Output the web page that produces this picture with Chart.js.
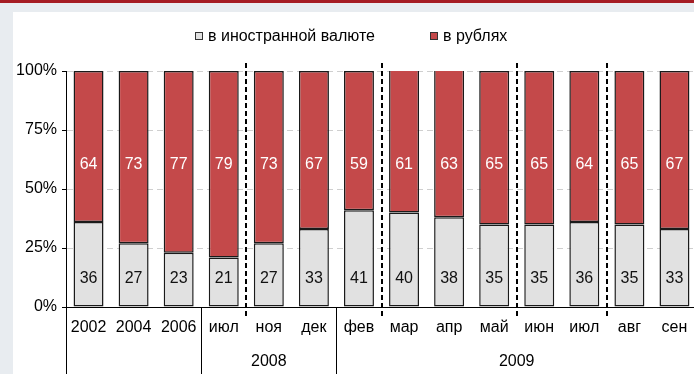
<!DOCTYPE html>
<html lang="ru">
<head>
<meta charset="utf-8">
<script src="https://cdn.jsdelivr.net/npm/chart.js@4/dist/chart.umd.min.js"></script>
<style>
  html, body { margin: 0; padding: 0; }
  body { width: 694px; height: 374px; overflow: hidden; position: relative; background: #e8ecf0; }
  .topline { position: absolute; left: 0; top: 0; width: 100%; height: 3px; background: #a51c23; }
  .panel { position: absolute; left: 13px; top: 12px; right: 0; bottom: 0; background: #fff; }
  canvas { position: absolute; left: 0; top: 0; }
</style>
</head>
<body>
<div class="topline"></div>
<div class="panel"></div>
<canvas id="chart" width="700" height="374"></canvas>
<script>
const categories = ['2002', '2004', '2006', 'июл', 'ноя', 'дек', 'фев', 'мар', 'апр', 'май', 'июн', 'июл', 'авг', 'сен'];
const foreignShare = [36, 27, 23, 21, 27, 33, 41, 40, 38, 35, 35, 36, 35, 33];
const rubleShare = [64, 73, 77, 79, 73, 67, 59, 61, 63, 65, 65, 64, 65, 67];
const yTicks = [0, 25, 50, 75, 100];
// year groups under the month labels (first..last category index)
const yearGroups = [
  { label: '2008', from: 3, to: 5 },
  { label: '2009', from: 6, to: 13 }
];
// dashed separators go after these category indexes
const dividers = [3, 6, 9, 11];

const FONT = '"Liberation Sans", Arial, sans-serif';
const RED = '#c4494a';
const GREY = '#e1e1e1';

const extras = {
  id: 'extras',
  afterDatasetsDraw(chart) {
    const { ctx, chartArea, scales: { x, y } } = chart;
    const edge = (i) => (x.getPixelForValue(i) + x.getPixelForValue(i + 1)) / 2;

    ctx.save();
    // value labels inside the segments
    ctx.font = '16px ' + FONT;
    ctx.textAlign = 'center';
    ctx.textBaseline = 'middle';
    categories.forEach((c, i) => {
      const px = x.getPixelForValue(i);
      ctx.fillStyle = '#111';
      ctx.fillText(String(foreignShare[i]), px, y.getPixelForValue(12));
      ctx.fillStyle = '#fff';
      ctx.fillText(String(rubleShare[i]), px, y.getPixelForValue(60.5));
    });

    // dashed period separators
    ctx.strokeStyle = '#000';
    ctx.lineWidth = 2;
    ctx.setLineDash([5, 3]);
    dividers.forEach((i) => {
      const xp = Math.round(edge(i));
      ctx.beginPath();
      ctx.moveTo(xp, chartArea.top - 8);
      ctx.lineTo(xp, chartArea.bottom + 9);
      ctx.stroke();
    });
    ctx.setLineDash([]);

    // year group lines and labels
    ctx.lineWidth = 1;
    const bottom = chart.height;
    const lines = [x.left, edge(yearGroups[0].from - 1), edge(yearGroups[1].from - 1)];
    lines.forEach((lx) => {
      const xp = Math.round(lx) + 0.5;
      ctx.beginPath();
      ctx.moveTo(xp, chartArea.bottom);
      ctx.lineTo(xp, bottom);
      ctx.stroke();
    });
    ctx.fillStyle = '#000';
    yearGroups.forEach((g) => {
      const l = edge(g.from - 1);
      const r = g.to >= categories.length - 1 ? chartArea.right : edge(g.to);
      ctx.fillText(g.label, (l + r) / 2, 362);
    });

    // legend
    const items = [
      { text: 'в иностранной валюте', color: GREY, x: 195 },
      { text: 'в рублях', color: RED, x: 430 }
    ];
    ctx.textAlign = 'left';
    items.forEach((it) => {
      ctx.fillStyle = it.color;
      ctx.fillRect(it.x, 32, 8, 8);
      ctx.strokeStyle = '#333';
      ctx.strokeRect(it.x + 0.5, 32.5, 7, 7);
      ctx.fillStyle = '#000';
      ctx.fillText(it.text, it.x + 13, 37);
    });
    ctx.restore();
  }
};

new Chart(document.getElementById('chart'), {
  type: 'bar',
  data: {
    labels: categories,
    datasets: [
      {
        label: 'в иностранной валюте',
        data: foreignShare,
        backgroundColor: GREY,
        borderColor: '#1a1a1a',
        borderWidth: 1.5,
        borderSkipped: false,
        barPercentage: 0.665,
        categoryPercentage: 1
      },
      {
        label: 'в рублях',
        data: rubleShare,
        backgroundColor: RED,
        borderColor: '#1a1a1a',
        borderWidth: 1.5,
        borderSkipped: false,
        barPercentage: 0.665,
        categoryPercentage: 1
      }
    ]
  },
  options: {
    responsive: false,
    animation: false,
    devicePixelRatio: 1,
    layout: { padding: { top: 71, right: 3, bottom: 0, left: 0 } },
    plugins: {
      legend: { display: false },
      tooltip: { enabled: false }
    },
    scales: {
      x: {
        stacked: true,
        offset: true,
        grid: { display: false, drawTicks: false },
        border: { display: true, color: '#000', width: 1 },
        ticks: { color: '#000', font: { size: 16, family: FONT }, padding: 11, maxRotation: 0, autoSkip: false },
        afterFit(scale) { scale.height = 67; }
      },
      y: {
        stacked: true,
        min: 0,
        max: 100,
        afterBuildTicks(scale) { scale.ticks = yTicks.map((v) => ({ value: v })); },
        ticks: { color: '#000', font: { size: 16, family: FONT }, padding: 5, callback: (v) => v + '%' },
        grid: { color: '#cfcfcf', tickColor: '#000', tickLength: 4, tickWidth: 1 },
        border: { color: '#000', width: 1, dash: [6, 4] },
        afterFit(scale) { scale.width = 66; }
      }
    }
  },
  plugins: [extras]
});
</script>
</body>
</html>
